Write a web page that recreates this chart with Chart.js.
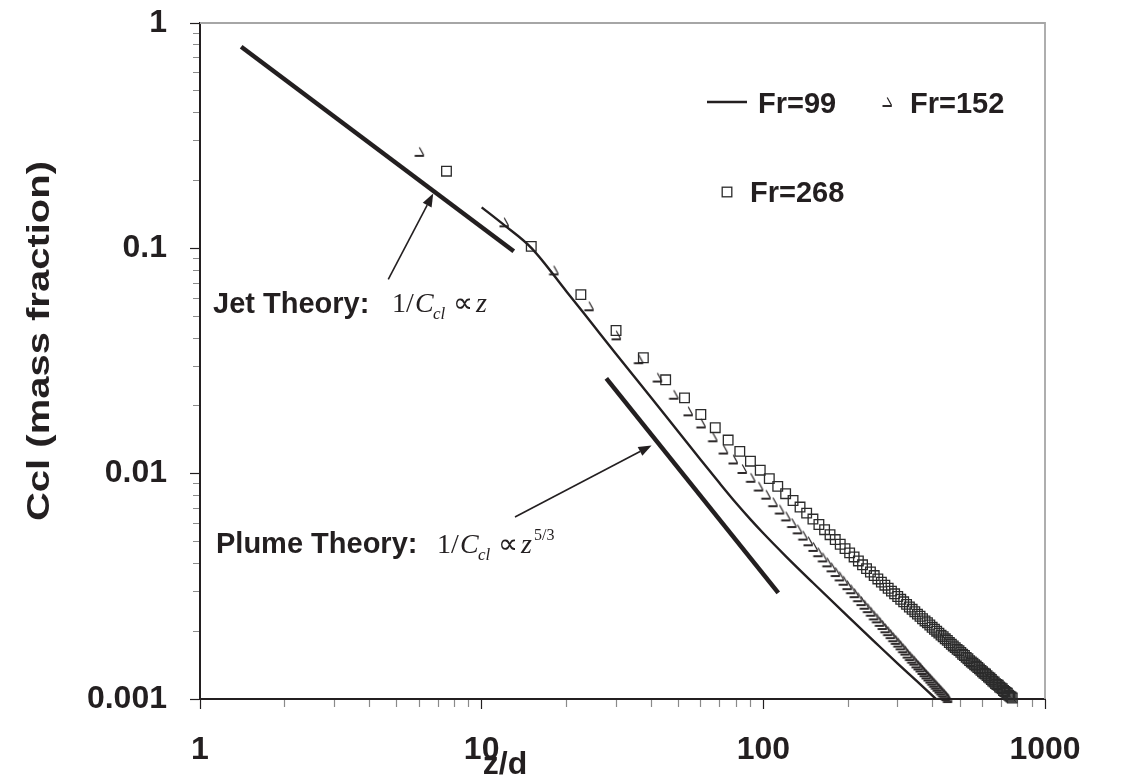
<!DOCTYPE html>
<html>
<head>
<meta charset="utf-8">
<script src="https://cdn.jsdelivr.net/npm/chart.js@4.4.1/dist/chart.umd.min.js"></script>
<style>
  html, body { margin: 0; padding: 0; background: #ffffff; }
  canvas { display: block; }
</style>
</head>
<body>
<canvas id="c" width="1146" height="777"></canvas>
<script>
const INK = '#231f20';

// Fr = 99: centreline concentration, continuous curve
const fr99X = [10, 12, 15, 20, 25, 30, 40, 50, 60, 70, 80, 90, 100, 120, 150, 200, 250, 300, 350, 410];
const fr99Y = [0.152, 0.127, 0.1005, 0.0644, 0.0453, 0.034, 0.0217, 0.0153, 0.0115, 0.00906, 0.00741,
               0.00627, 0.00544, 0.00431, 0.00328, 0.00232, 0.00178, 0.001436, 0.001203, 0.001];

// Fr = 152: sampled every 6 diameters
const fr152X = [6, 12, 18, 24, 30, 36, 42, 48, 54, 60, 66, 72, 78, 84, 90, 96, 102, 108, 114, 120,
                126, 132, 138, 144, 150, 156, 162, 168, 174, 180, 186, 192, 198, 204, 210, 216, 222, 228, 234, 240,
                246, 252, 258, 264, 270, 276, 282, 288, 294, 300, 306, 312, 318, 324, 330, 336, 342, 348, 354, 360,
                366, 372, 378, 384, 390, 396, 402, 408, 414, 420, 426, 432, 438, 444, 450];
const fr152Y = [0.268, 0.1304, 0.0798, 0.0553, 0.0411, 0.0322, 0.0267, 0.0224, 0.0189, 0.0167,
                0.0145, 0.0128, 0.01156, 0.01049, 0.00959, 0.00877, 0.00807, 0.00747, 0.00693, 0.00646,
                0.00604, 0.00566, 0.00531, 0.00501, 0.00473, 0.00448, 0.00425, 0.00404, 0.00384, 0.00366,
                0.0035, 0.00335, 0.0032, 0.00307, 0.00295, 0.00283, 0.00272, 0.00262, 0.00253, 0.00244,
                0.00235, 0.00228, 0.0022, 0.00213, 0.00206, 0.002, 0.00194, 0.00188, 0.00183, 0.00178,
                0.00173, 0.00168, 0.00164, 0.00159, 0.00155, 0.00151, 0.00148, 0.00144, 0.00141, 0.00138,
                0.001345, 0.001315, 0.001286, 0.001259, 0.001232, 0.001206, 0.001181, 0.001157, 0.001134, 0.001112,
                0.001091, 0.00107, 0.00105, 0.00103, 0.00101];

// Fr = 268: sampled every 7.5 diameters
const fr268X = [7.5, 15, 22.5, 30, 37.5, 45, 52.5, 60, 67.5, 75, 82.5, 90, 97.5, 105, 112.5, 120,
                127.5, 135, 142.5, 150, 157.5, 165, 172.5, 180, 187.5, 195, 202.5, 210, 217.5, 225, 232.5, 240,
                247.5, 255, 262.5, 270, 277.5, 285, 292.5, 300, 307.5, 315, 322.5, 330, 337.5, 345, 352.5, 360,
                367.5, 375, 382.5, 390, 397.5, 405, 412.5, 420, 427.5, 435, 442.5, 450, 457.5, 465, 472.5, 480,
                487.5, 495, 502.5, 510, 517.5, 525, 532.5, 540, 547.5, 555, 562.5, 570, 577.5, 585, 592.5, 600,
                607.5, 615, 622.5, 630, 637.5, 645, 652.5, 660, 667.5, 675, 682.5, 690, 697.5, 705, 712.5, 720,
                727.5, 735, 742.5, 750, 757.5, 765];
const fr268Y = [0.22, 0.102, 0.0623, 0.0432, 0.0327, 0.0261, 0.0217, 0.0183, 0.016, 0.0141,
                0.01256, 0.01136, 0.01036, 0.00951, 0.00878, 0.00815, 0.0076, 0.00711, 0.00668, 0.00629,
                0.00595, 0.00564, 0.00536, 0.0051, 0.00486, 0.00465, 0.00445, 0.00427, 0.0041, 0.00394,
                0.00379, 0.00366, 0.00353, 0.00341, 0.0033, 0.0032, 0.0031, 0.00301, 0.00293, 0.00285,
                0.00277, 0.0027, 0.00263, 0.00256, 0.0025, 0.00244, 0.00238, 0.00233, 0.00227, 0.00222,
                0.00218, 0.00213, 0.00208, 0.00204, 0.002, 0.00196, 0.00192, 0.00189, 0.00185, 0.00182,
                0.00178, 0.00175, 0.00172, 0.00169, 0.00166, 0.00164, 0.00161, 0.00158, 0.00156, 0.00153,
                0.00151, 0.00148, 0.00146, 0.00144, 0.00142, 0.0014, 0.00138, 0.00136, 0.00134, 0.00132,
                0.0013, 0.00129, 0.00127, 0.00125, 0.00124, 0.00122, 0.0012, 0.00119, 0.00117, 0.00116,
                0.00115, 0.00113, 0.00112, 0.00111, 0.00109, 0.00108, 0.00107, 0.00106, 0.00104, 0.00103,
                0.00102, 0.00101];

// Similarity-theory reference slopes
const jetX = [1.4, 13];
const jetY = [0.785, 0.097];
const plumeX = [27.7, 113];
const plumeY = [0.0265, 0.00296];

// Arrow end points (tail, head) in data units
const jetArrowX = [4.66, 6.73];
const jetArrowY = [0.0729, 0.1749];
const plumeArrowX = [13.13, 40.1];
const plumeArrowY = [0.00642, 0.01335];

const xTickLabels = ['1', '10', '100', '1000'];
const yTickLabels = ['0.001', '0.01', '0.1', '1'];
const seriesNames = ['Fr=99', 'Fr=152', 'Fr=268'];

const pts = (xs, ys) => xs.map((x, i) => ({ x, y: ys[i] }));

// small wedge marker: flat base plus one slanted side
function makeWedge() {
  const c = document.createElement('canvas');
  c.width = 12; c.height = 12;
  const g = c.getContext('2d');
  g.strokeStyle = INK;
  g.lineWidth = 1.9;
  g.beginPath(); g.moveTo(1.5, 10); g.lineTo(10.8, 10); g.stroke();
  g.lineWidth = 1.2;
  g.beginPath(); g.moveTo(6.2, 1.5); g.lineTo(10.5, 9.3); g.stroke();
  return c;
}
const wedge = makeWedge();

function labelFor(list) {
  return (value) => {
    const hit = list.find(l => Math.abs(Math.log10(Number(l)) - Math.log10(value)) < 1e-6);
    return hit === undefined ? '' : hit;
  };
}
function keepWholeSteps(scale) {
  scale.ticks = scale.ticks.filter(t => {
    const m = t.value / Math.pow(10, Math.floor(Math.log10(t.value) + 1e-9));
    return Math.abs(m - Math.round(m)) < 1e-6;
  });
}
const tickFont = { family: "'Liberation Sans', Arial, sans-serif", size: 32, weight: 'bold' };

const gridCommon = {
  drawOnChartArea: false,
  drawTicks: true,
  tickLength: 10,
  tickWidth: 1.2,
  tickColor: (ctx) => (ctx.tick && ctx.tick.major) ? INK : '#8a8a8a'
};

// frame, axis titles, legend and theory annotations
const decor = {
  id: 'decor',
  beforeDatasetsDraw(chart) {
    const { ctx, chartArea: a } = chart;
    ctx.save();
    ctx.strokeStyle = '#a6a6a6';
    ctx.lineWidth = 1.8;
    ctx.beginPath();
    ctx.moveTo(a.left, a.top); ctx.lineTo(a.right, a.top); ctx.lineTo(a.right, a.bottom);
    ctx.stroke();
    ctx.restore();
  },
  afterDatasetsDraw(chart) {
    const { ctx } = chart;
    const xs = chart.scales.x, ys = chart.scales.y;
    const P = (x, y) => [xs.getPixelForValue(x), ys.getPixelForValue(y)];
    ctx.save();
    ctx.fillStyle = INK;
    ctx.strokeStyle = INK;

    // axis titles
    ctx.font = "bold 32px 'Liberation Sans', Arial, sans-serif";
    ctx.textAlign = 'center';
    ctx.textBaseline = 'alphabetic';
    ctx.fillText('z/d', 505, 774);
    ctx.save();
    ctx.translate(49, 341);
    ctx.rotate(-Math.PI / 2);
    ctx.scale(1.25, 1);
    ctx.fillText('Ccl (mass fraction)', 0, 0);
    ctx.restore();

    // legend
    const bold = "bold 29px 'Liberation Sans', Arial, sans-serif";
    ctx.font = bold;
    ctx.textAlign = 'left';
    ctx.textBaseline = 'alphabetic';
    ctx.lineWidth = 2.6;
    ctx.beginPath(); ctx.moveTo(707, 102); ctx.lineTo(747, 102); ctx.stroke();
    ctx.fillText(seriesNames[0], 758, 113);
    ctx.drawImage(wedge, 881, 96);
    ctx.fillText(seriesNames[1], 910, 113);
    ctx.lineWidth = 1.3;
    ctx.strokeStyle = '#2b2b2b';
    ctx.strokeRect(722.2, 187.2, 9.6, 9.6);
    ctx.fillText(seriesNames[2], 750, 202);

    // theory labels
    ctx.fillStyle = INK;
    ctx.strokeStyle = INK;
    ctx.font = bold;
    ctx.fillText('Jet Theory:', 213, 313);
    ctx.fillText('Plume Theory:', 216, 553);

    const up = "28px 'Liberation Serif', 'Times New Roman', serif";
    const it = "italic 28px 'Liberation Serif', 'Times New Roman', serif";
    const itSmall = "italic 17px 'Liberation Serif', 'Times New Roman', serif";
    const small = "16px 'Liberation Serif', 'Times New Roman', serif";
    function formula(x0, base, withPower) {
      ctx.font = up; ctx.fillText('1/', x0, base);
      ctx.font = it; ctx.fillText('C', x0 + 23, base);
      ctx.font = itSmall; ctx.fillText('cl', x0 + 41, base + 7);
      ctx.font = up; ctx.fillText('\u221D', x0 + 61, base);
      ctx.font = it; ctx.fillText('z', x0 + 84, base);
      if (withPower) { ctx.font = small; ctx.fillText('5/3', x0 + 97, base - 13); }
    }
    formula(392, 312, false);
    formula(437, 553, true);

    // arrows
    function arrow(ax, ay) {
      const [x1, y1] = P(ax[0], ay[0]);
      const [x2, y2] = P(ax[1], ay[1]);
      const ang = Math.atan2(y2 - y1, x2 - x1);
      const L = 13, W = 5;
      const bx = x2 - L * Math.cos(ang), by = y2 - L * Math.sin(ang);
      ctx.lineWidth = 1.6;
      ctx.beginPath(); ctx.moveTo(x1, y1); ctx.lineTo(bx, by); ctx.stroke();
      ctx.beginPath();
      ctx.moveTo(x2, y2);
      ctx.lineTo(bx + W * Math.sin(ang), by - W * Math.cos(ang));
      ctx.lineTo(bx - W * Math.sin(ang), by + W * Math.cos(ang));
      ctx.closePath(); ctx.fill();
    }
    arrow(jetArrowX, jetArrowY);
    arrow(plumeArrowX, plumeArrowY);
    ctx.restore();
  }
};

new Chart(document.getElementById('c'), {
  type: 'scatter',
  data: {
    datasets: [
      { label: seriesNames[0], data: pts(fr99X, fr99Y), showLine: true, borderColor: INK, borderWidth: 2.4,
        pointRadius: 0, cubicInterpolationMode: 'monotone', fill: false },
      { label: seriesNames[1], data: pts(fr152X, fr152Y), showLine: false, pointStyle: wedge,
        pointRadius: 5, clip: false },
      { label: seriesNames[2], data: pts(fr268X, fr268Y), showLine: false, pointStyle: 'rect',
        pointRadius: 6.8, borderColor: '#2b2b2b', backgroundColor: 'rgba(0,0,0,0)', borderWidth: 1.3, clip: false },
      { label: 'jet', data: pts(jetX, jetY), showLine: true, borderColor: INK, borderWidth: 4.5, pointRadius: 0 },
      { label: 'plume', data: pts(plumeX, plumeY), showLine: true, borderColor: INK, borderWidth: 4.5, pointRadius: 0 }
    ]
  },
  options: {
    responsive: false,
    animation: false,
    devicePixelRatio: 1,
    layout: { padding: { top: 23, right: 101, bottom: 0, left: 0 } },
    plugins: { legend: { display: false }, tooltip: { enabled: false } },
    scales: {
      x: {
        type: 'logarithmic', position: 'bottom', min: 1, max: 1000,
        afterBuildTicks: keepWholeSteps,
        afterFit: (s) => { s.height = 78; },
        border: { display: true, color: INK, width: 2 },
        grid: Object.assign({}, gridCommon, {
          tickBorderDash: (ctx) => (ctx.tick && ctx.tick.major) ? [] : [7, 100]
        }),
        ticks: { autoSkip: false, maxRotation: 0, padding: 22, color: INK, font: tickFont,
                 callback: labelFor(xTickLabels) }
      },
      y: {
        type: 'logarithmic', position: 'left', min: 0.001, max: 1,
        afterBuildTicks: keepWholeSteps,
        afterFit: (s) => { s.width = 200; s.paddingTop = 0; s.paddingBottom = 0; },
        border: { display: true, color: INK, width: 2 },
        grid: Object.assign({}, gridCommon, {
          tickBorderDash: (ctx) => (ctx.tick && ctx.tick.major) ? [] : [0, 3, 7, 100]
        }),
        ticks: { autoSkip: false, padding: 23, color: INK, font: tickFont,
                 callback: labelFor(yTickLabels) }
      }
    }
  },
  plugins: [decor]
});
</script>
</body>
</html>
